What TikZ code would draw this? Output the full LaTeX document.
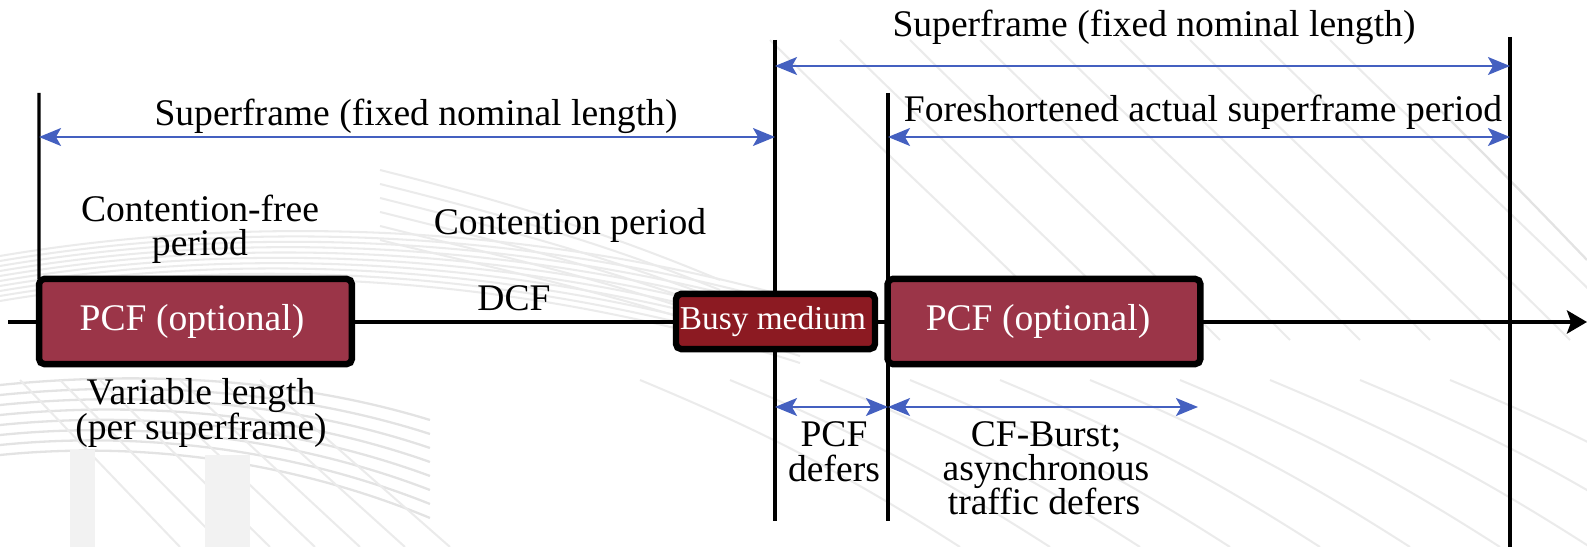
\documentclass[tikz,border=0pt]{standalone}
\usepackage{fontspec}
\setmainfont{Liberation Serif}
\usetikzlibrary{arrows.meta}

\definecolor{pcfred}{RGB}{155,53,72}
\definecolor{busyred}{RGB}{140,26,34}
\definecolor{spanblue}{RGB}{68,96,192}

\tikzset{
  lbl/.style={font=\fontsize{14.66}{14}\selectfont, inner sep=0pt, outer sep=0pt, anchor=base},
  phase/.style={draw=black, line width=2.5pt, rounded corners=2pt, inner sep=0pt, outer sep=0pt,
                fill=pcfred, minimum width=122pt, minimum height=33.2pt},
  busybox/.style={phase, fill=busyred, minimum width=77.6pt, minimum height=21.5pt},
  boxlbl/.style={font=\fontsize{14.66}{14}\selectfont, inner sep=0pt, outer sep=0pt, text=white},
  busylbl/.style={boxlbl, font=\fontsize{13}{13}\selectfont},
  marker/.style={draw=black, line width=1.25pt},
  timeline/.style={draw=black, line width=1.8pt, -{Stealth[length=7.8pt,width=9pt,inset=1.6pt]}},
  span/.style={draw=spanblue, line width=0.8pt,
               {Stealth[length=8.6pt,width=7pt,inset=2pt]}-{Stealth[length=8.6pt,width=7pt,inset=2pt]}},
  tex/.style={draw=black!8, line width=0.8pt},
  texd/.style={draw=black!11, line width=0.9pt},
}

\begin{document}
\begin{tikzpicture}[x=0.39pt,y=-0.39pt]
\useasboundingbox (0,0) rectangle (1587,547);

% faint textured backdrop
\begin{scope}
  \clip (0,0) rectangle (1587,547);
  \foreach \i in {0,...,9}
    \draw[tex] (0,{256+\i*5}) .. controls (260,{212+\i*5}) and (540,{226+\i*6}) .. (800,{300+\i*7});
  \foreach \i in {0,...,5}
    \draw[tex] (380,{170+\i*14}) .. controls (500,{200+\i*14}) and (600,{230+\i*12}) .. (720,{280+\i*10});
  \foreach \i in {0,...,8}
    \draw[tex] ({770+\i*70},40) .. controls ({860+\i*70},130) and ({960+\i*70},220) .. ({1080+\i*70},340);
  \draw[texd] (1440,110) .. controls (1490,160) and (1520,190) .. (1587,260);
  \foreach \i in {0,...,7}
    \draw[texd] (0,{385+\i*10}) .. controls (150,{370+\i*10}) and (300,{380+\i*12}) .. (430,{420+\i*14});
  \foreach \i in {0,...,6}
    \draw[tex] ({20+\i*40},380) -- ({180+\i*45},547);
  \fill[black!5] (70,450) rectangle (95,547);
  \fill[black!5] (205,455) rectangle (250,547);
  \foreach \i in {0,...,9}
    \draw[tex] ({640+\i*90},380) .. controls ({760+\i*90},430) and ({840+\i*90},470) .. ({960+\i*90},547);
\end{scope}

% time axis
\coordinate (tl0) at (8,322);
\coordinate (tl1) at (1587,322);
\draw[timeline] (tl0) -- (tl1);

% superframe boundaries
\coordinate (v1t) at (39,93);
\coordinate (v2t) at (775,40);   \coordinate (v2b) at (775,521);
\coordinate (v3t) at (888,93);   \coordinate (v3b) at (888,521);
\coordinate (v4t) at (1510,37);  \coordinate (v4b) at (1510,547);
\draw[marker] (v2t) -- (v2b);
\draw[marker] (v3t) -- (v3b);
\draw[marker] (v4t) -- (v4b);

% medium activity
\node[phase]   (pcf1) at (195.5,321.5) {};
\node[busybox] (busy) at (775.5,321.5) {};
\node[phase]   (pcf2) at (1044,321.5) {};
\node[boxlbl]  (pcf1t) at (192,321.5) {PCF (optional)};
\node[busylbl] (busyt) at (773,321.5) {Busy medium};
\node[boxlbl]  (pcf2t) at (1038,321.5) {PCF (optional)};
\draw[marker] (v1t) -- (pcf1.north west);

% span arrows
\coordinate (s1l) at (39,137);   \coordinate (s1r) at (775,137);
\coordinate (s2l) at (775,66);   \coordinate (s2r) at (1510,66);
\coordinate (s3l) at (888,137);  \coordinate (s3r) at (1510,137);
\coordinate (s4l) at (775,407);  \coordinate (s4r) at (888,407);
\coordinate (s5l) at (888,407);  \coordinate (s5r) at (1198,407);
\draw[span] (s1l) -- (s1r);
\draw[span] (s2l) -- (s2r);
\draw[span] (s3l) -- (s3r);
\draw[span] (s4l) -- (s4r);
\draw[span] (s5l) -- (s5r);

% labels
\node[lbl] (tsf)  at (1154,37)  {Superframe (fixed nominal length)};
\node[lbl] (lsf)  at (416,126)  {Superframe (fixed nominal length)};
\node[lbl] (fsp)  at (1203,122) {Foreshortened actual superframe period};
\node[lbl] (cf1)  at (200,222)  {Contention-free};
\node[lbl] (cf2)  at (200,256)  {period};
\node[lbl] (cp)   at (570,235)  {Contention period};
\node[lbl] (dcf)  at (514,311)  {DCF};
\node[lbl] (vl1)  at (201,405)  {Variable length};
\node[lbl] (vl2)  at (201,440)  {(per superframe)};
\node[lbl] (pd1)  at (834,447)  {PCF};
\node[lbl] (pd2)  at (834,482)  {defers};
\node[lbl] (cb1)  at (1046,447) {CF-Burst;};
\node[lbl] (cb2)  at (1046,481) {asynchronous};
\node[lbl] (cb3)  at (1044,515) {traffic defers};
\end{tikzpicture}
\end{document}
